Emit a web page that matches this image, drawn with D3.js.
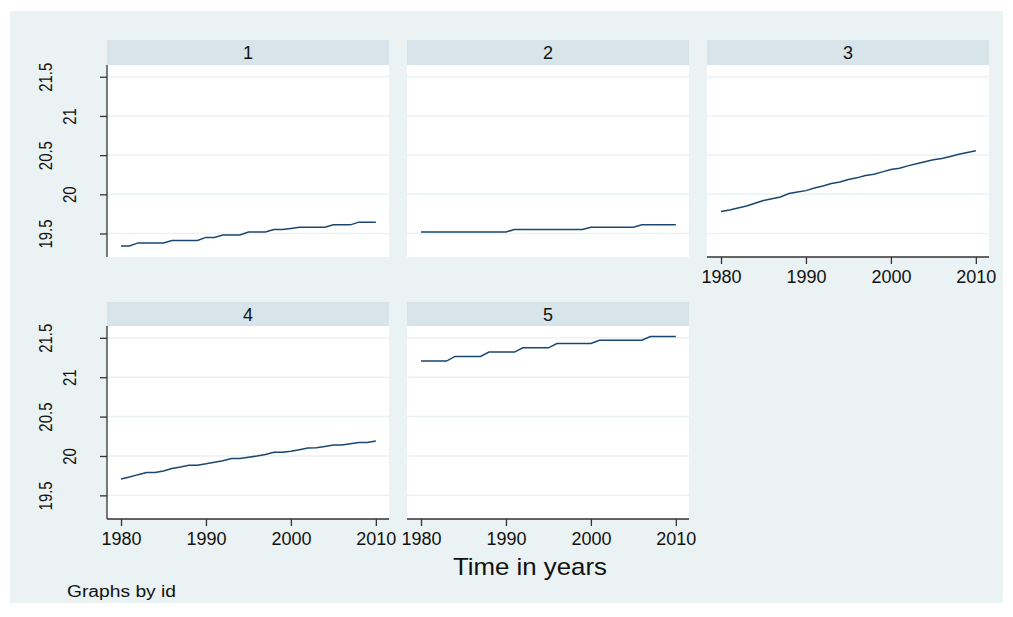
<!DOCTYPE html>
<html>
<head>
<meta charset="utf-8">
<script src="https://cdn.jsdelivr.net/npm/d3@7"></script>
<style>
  body { margin: 0; background: #fff; }
  svg { display: block; font-family: "Liberation Sans", Arial, sans-serif; }
</style>
</head>
<body>
<svg id="chart" width="1013" height="617"></svg>
<script>
// years on the x axis
const years = d3.range(1980, 2011);

// one series per id
const id1 = [19.34, 19.34, 19.38, 19.38, 19.38, 19.38, 19.41, 19.41, 19.41, 19.41, 19.45,
  19.45, 19.48, 19.48, 19.48, 19.52, 19.52, 19.52, 19.55, 19.55, 19.565, 19.58, 19.58,
  19.58, 19.58, 19.61, 19.61, 19.61, 19.645, 19.645, 19.645];
const id2 = [19.52, 19.52, 19.52, 19.52, 19.52, 19.52, 19.52, 19.52, 19.52, 19.52, 19.52,
  19.55, 19.55, 19.55, 19.55, 19.55, 19.55, 19.55, 19.55, 19.55, 19.58, 19.58, 19.58,
  19.58, 19.58, 19.58, 19.61, 19.61, 19.61, 19.61, 19.61];
const id3 = [19.78, 19.80, 19.825, 19.85, 19.885, 19.92, 19.944, 19.966, 20.01, 20.03, 20.047,
  20.08, 20.107, 20.137, 20.158, 20.19, 20.21, 20.24, 20.256, 20.286, 20.316, 20.333, 20.363,
  20.389, 20.415, 20.44, 20.457, 20.483, 20.51, 20.534, 20.556];
const id4 = [19.708, 19.733, 19.763, 19.79, 19.79, 19.81, 19.84, 19.86, 19.883, 19.883, 19.90,
  19.92, 19.94, 19.967, 19.967, 19.983, 20.0, 20.02, 20.046, 20.046, 20.06, 20.08, 20.10,
  20.104, 20.12, 20.138, 20.14, 20.154, 20.17, 20.17, 20.19];
const id5 = [21.205, 21.205, 21.205, 21.205, 21.264, 21.264, 21.264, 21.264, 21.319, 21.319,
  21.319, 21.319, 21.373, 21.373, 21.373, 21.373, 21.428, 21.428, 21.428, 21.428, 21.428,
  21.47, 21.47, 21.47, 21.47, 21.47, 21.47, 21.517, 21.517, 21.517, 21.517];

const panelIds = ["1", "2", "3", "4", "5"];
const seriesList = [id1, id2, id3, id4, id5];
const yTicks = [19.5, 20, 20.5, 21, 21.5];
const xTicks = [1980, 1990, 2000, 2010];

const bg = "#eaf2f3", strip = "#d7e4ea", lineColor = "#1a476f", axisColor = "#333";

const svg = d3.select("#chart");
svg.append("rect").attr("x", 10).attr("y", 11).attr("width", 993).attr("height", 592)
  .attr("fill", bg);

// panel layout: column left edges and row tops
const colX = [107, 407, 707];
const rows = [{ head: 40, top: 65, bottom: 257 }, { head: 302, top: 326, bottom: 519 }];
const pw = 282;

const panels = panelIds.map((id, i) => {
  let r = i < 3 ? 0 : 1, c = i < 3 ? i : i - 3;
  return {
    id: id, values: seriesList[i], row: rows[r], x0: colX[c],
    yAxis: c === 0, xAxis: r === 1 || i === 2
  };
});

panels.forEach(p => {
  const g = svg.append("g");
  const x = d3.scaleLinear().domain([1978.35, 2011.55]).range([p.x0, p.x0 + pw]);
  const y = d3.scaleLinear().domain([19.2, 21.65]).range([p.row.bottom, p.row.top]);

  // header strip
  g.append("rect").attr("x", p.x0).attr("y", p.row.head)
    .attr("width", pw).attr("height", p.row.top - p.row.head).attr("fill", strip);
  g.append("text").attr("x", p.x0 + pw / 2).attr("y", (p.row.head + p.row.top) / 2 + 6.5)
    .attr("text-anchor", "middle").attr("font-size", 18).attr("fill", "#111").text(p.id);

  // plot region
  g.append("rect").attr("x", p.x0).attr("y", p.row.top)
    .attr("width", pw).attr("height", p.row.bottom - p.row.top).attr("fill", "#fff");

  // gridlines
  g.selectAll("line.grid").data(yTicks).enter().append("line")
    .attr("class", "grid")
    .attr("x1", p.x0).attr("x2", p.x0 + pw)
    .attr("y1", d => y(d)).attr("y2", d => y(d))
    .attr("stroke", bg).attr("stroke-width", 1.5);

  // series line
  const line = d3.line().x((d, i) => x(years[i])).y(d => y(d));
  g.append("path").datum(p.values).attr("d", line)
    .attr("fill", "none").attr("stroke", lineColor).attr("stroke-width", 1.5);

  if (p.yAxis) {
    const ax = g.append("g").attr("transform", `translate(${p.x0},0)`)
      .call(d3.axisLeft(y).tickValues(yTicks).tickSize(7).tickFormat(""));
    ax.select(".domain").attr("d", `M0,${p.row.top}V${p.row.bottom}`)
      .attr("stroke", axisColor).attr("stroke-width", 1.3);
    ax.selectAll(".tick line").attr("stroke", axisColor).attr("stroke-width", 1.3);
    // staggered, rotated labels
    ax.selectAll(".tick").append("text")
      .attr("transform", (d, i) =>
        `translate(${i % 2 === 0 ? -55 : -31},0) rotate(-90) scale(0.88,1.12)`)
      .attr("text-anchor", "middle").attr("font-size", 17).attr("fill", "#111")
      .attr("x", 0).attr("y", 0).attr("dy", 0)
      .text(d => d3.format("")(d));
  }

  if (p.xAxis) {
    const ax = g.append("g").attr("transform", `translate(0,${p.row.bottom})`)
      .call(d3.axisBottom(x).tickValues(xTicks).tickSize(7).tickFormat(d3.format("d")));
    ax.select(".domain").attr("d", `M${p.x0},0H${p.x0 + pw}`)
      .attr("stroke", axisColor).attr("stroke-width", 1.3);
    ax.selectAll(".tick line").attr("stroke", axisColor).attr("stroke-width", 1.3);
    ax.selectAll(".tick text").attr("font-size", 18).attr("fill", "#111")
      .attr("font-family", "Liberation Sans, Arial, sans-serif").attr("dy", 0)
      .attr("y", 26);
  }
});

svg.append("text").attr("x", 530).attr("y", 575).attr("text-anchor", "middle")
  .attr("font-size", 24).attr("fill", "#111")
  .attr("textLength", 154).attr("lengthAdjust", "spacingAndGlyphs").text("Time in years");
svg.append("text").attr("x", 67).attr("y", 597)
  .attr("font-size", 16).attr("fill", "#111")
  .attr("textLength", 109).attr("lengthAdjust", "spacingAndGlyphs").text("Graphs by id");
</script>
</body>
</html>
